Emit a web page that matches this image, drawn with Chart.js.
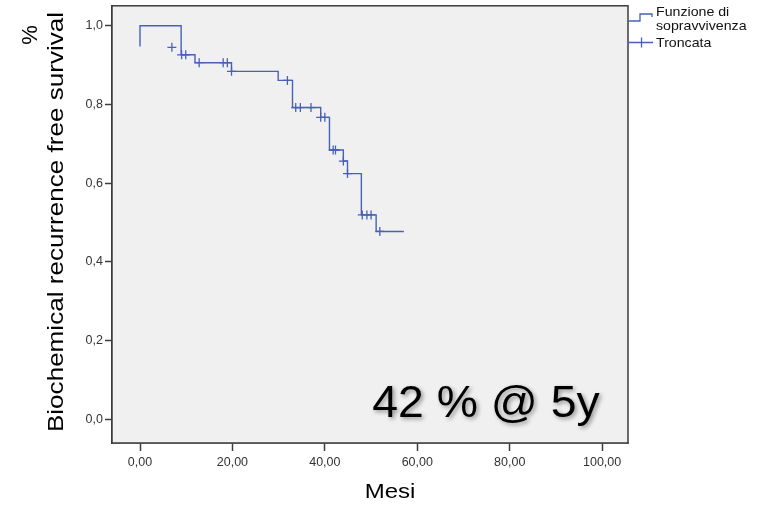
<!DOCTYPE html>
<html>
<head>
<meta charset="utf-8">
<script src="https://cdn.jsdelivr.net/npm/chart.js@4/dist/chart.umd.min.js"></script>
<style>
  body { margin: 0; background: #ffffff; }
  #grafico { display: block; }
</style>
</head>
<body>
<canvas id="grafico" width="763" height="506"></canvas>
<script>
// Curva di Kaplan-Meier (tempo in mesi, sopravvivenza)
var tempiCurva = [0, 0, 8.9, 11.9, 19.8, 29.9, 33.0, 39.1, 41.0, 44.0, 44.9, 47.9, 51.1, 57.1];
var valoriCurva = [0.947, 1.0, 0.926, 0.906, 0.884, 0.861, 0.792, 0.767, 0.684, 0.656, 0.624, 0.519, 0.477, 0.477];

// Casi troncati (censurati)
var tempiTroncati = [6.9, 9.0, 9.9, 12.8, 18.0, 18.9, 19.8, 31.9, 33.7, 34.7, 37.0, 39.1, 40.0, 41.8, 42.3, 44.0, 44.9, 48.1, 49.1, 50.0, 51.9];
var valoriTroncati = [0.945, 0.926, 0.926, 0.906, 0.906, 0.906, 0.884, 0.861, 0.792, 0.792, 0.792, 0.767, 0.767, 0.684, 0.684, 0.656, 0.624, 0.519, 0.519, 0.519, 0.477];

// Etichette assi
var ticksX = [0, 20, 40, 60, 80, 100];
var ticksY = [0, 0.2, 0.4, 0.6, 0.8, 1.0];
var titoloX = "Mesi";
var titoloY = "Biochemical recurrence free survival";
var legenda = ["Funzione di", "sopravvivenza", "Troncata"];
var annotazione = "42 % @ 5y";

var blu = "#4661b5";
var font = "'Liberation Sans', Arial, sans-serif";

// costruisce i punti {x,y}
var puntiCurva = tempiCurva.map(function (t, i) { return { x: t, y: valoriCurva[i] }; });
var puntiTroncati = tempiTroncati.map(function (t, i) { return { x: t, y: valoriTroncati[i] }; });

// testo con scala orizzontale (il grafico originale e' stirato)
function testoScalato(ctx, testo, x, y, scala) {
  ctx.save();
  ctx.translate(x, y);
  ctx.scale(scala, 1);
  ctx.fillText(testo, 0, 0);
  ctx.restore();
}

var pluginDecorazioni = {
  id: 'decorazioni',
  beforeDatasetsDraw: function (chart) {
    var ctx = chart.ctx, a = chart.chartArea;
    ctx.save();
    ctx.fillStyle = "#f0f0f0";
    ctx.fillRect(a.left, a.top, a.right - a.left, a.bottom - a.top);
    ctx.restore();
  },
  afterDraw: function (chart) {
    var ctx = chart.ctx, a = chart.chartArea;
    ctx.save();

    // cornice del grafico
    ctx.strokeStyle = "#3c3c3c";
    ctx.lineWidth = 1.5;
    ctx.strokeRect(a.left, a.top, a.right - a.left, a.bottom - a.top);

    // titolo asse Y (ruotato)
    ctx.fillStyle = "#000";
    ctx.font = "22px " + font;
    ctx.textAlign = "center";
    ctx.textBaseline = "alphabetic";
    ctx.save();
    ctx.translate(63, 222);
    ctx.rotate(-Math.PI / 2);
    testoScalato(ctx, titoloY, 0, 0, 1.185);
    ctx.restore();

    // il "%" in alto a sinistra
    ctx.save();
    ctx.translate(37, 35);
    ctx.rotate(-Math.PI / 2);
    ctx.fillText("%", 0, 0);
    ctx.restore();

    // titolo asse X
    ctx.font = "20px " + font;
    testoScalato(ctx, titoloX, 390, 498, 1.2);

    // annotazione con ombra
    ctx.font = "45px " + font;
    ctx.shadowColor = "rgba(0,0,0,0.4)";
    ctx.shadowOffsetX = 2;
    ctx.shadowOffsetY = 2;
    ctx.shadowBlur = 4;
    testoScalato(ctx, annotazione, 486, 417, 1.03);
    ctx.shadowColor = "transparent";

    // legenda
    ctx.strokeStyle = blu;
    ctx.lineWidth = 1.3;
    ctx.beginPath();
    ctx.moveTo(628, 21);
    ctx.lineTo(640, 21);
    ctx.lineTo(640, 14);
    ctx.lineTo(652, 14);
    ctx.lineTo(652, 17);
    ctx.stroke();
    ctx.beginPath();
    ctx.moveTo(628, 42.5);
    ctx.lineTo(653, 42.5);
    ctx.moveTo(641.5, 37.5);
    ctx.lineTo(641.5, 47.5);
    ctx.stroke();

    ctx.fillStyle = "#111";
    ctx.font = "13px " + font;
    ctx.textAlign = "left";
    ctx.textBaseline = "middle";
    testoScalato(ctx, legenda[0], 656, 12.5, 1.09);
    testoScalato(ctx, legenda[1], 656, 26, 1.09);
    testoScalato(ctx, legenda[2], 656, 43, 1.09);

    ctx.restore();
  }
};

new Chart(document.getElementById('grafico'), {
  type: 'scatter',
  data: {
    datasets: [{
      label: legenda[0] + " " + legenda[1],
      data: puntiCurva,
      showLine: true,
      stepped: 'before',
      borderColor: blu,
      borderWidth: 1.4,
      pointRadius: 0,
      fill: false
    }, {
      label: legenda[2],
      data: puntiTroncati,
      showLine: false,
      pointStyle: 'cross',
      pointRadius: 4.5,
      pointBorderWidth: 1.3,
      borderColor: blu,
      backgroundColor: blu
    }]
  },
  options: {
    responsive: false,
    animation: false,
    layout: { padding: { left: 72, top: 4, right: 135, bottom: 23 } },
    plugins: {
      legend: { display: false },
      tooltip: { enabled: false }
    },
    scales: {
      x: {
        type: 'linear',
        min: -6.06,
        max: 105.6,
        afterBuildTicks: function (s) { s.ticks = ticksX.map(function (v) { return { value: v }; }); },
        afterFit: function (s) { s.height = 40; s.paddingLeft = 0; s.paddingRight = 0; },
        grid: { drawOnChartArea: false, tickLength: 8, color: '#3c3c3c', tickWidth: 1.5 },
        border: { color: '#3c3c3c', width: 1.5 },
        ticks: {
          color: '#333',
          padding: 4,
          font: { size: 12.5, family: font },
          maxRotation: 0,
          callback: function (v) { return v.toFixed(2).replace('.', ','); }
        }
      },
      y: {
        type: 'linear',
        min: -0.0608,
        max: 1.0506,
        afterBuildTicks: function (s) { s.ticks = ticksY.map(function (v) { return { value: v }; }); },
        afterFit: function (s) { s.width = 40; s.paddingTop = 0; s.paddingBottom = 0; },
        grid: { drawOnChartArea: false, tickLength: 7, color: '#3c3c3c', tickWidth: 1.5 },
        border: { color: '#3c3c3c', width: 1.5 },
        ticks: {
          color: '#333',
          padding: 2,
          font: { size: 12.5, family: font },
          callback: function (v) { return v.toFixed(1).replace('.', ','); }
        }
      }
    }
  },
  plugins: [pluginDecorazioni]
});
</script>
</body>
</html>
